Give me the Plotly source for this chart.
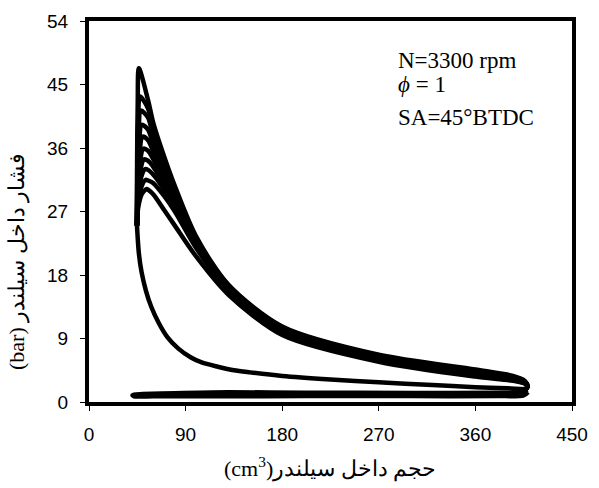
import plotly.graph_objects as go

# ---------------- data ----------------
# shared compression stroke (cm^3, bar)
V_comp = [407, 390, 360, 320, 270, 225, 180, 150, 135, 120, 105, 95, 83, 73, 65, 58, 53, 49, 46.5, 44.7]
P_comp = [1.8, 1.95, 2.1, 2.4, 2.8, 3.2, 3.7, 4.2, 4.5, 5.0, 5.6, 6.3, 7.6, 9.2, 11.2, 13.5, 15.8, 18.4, 21.0, 25.0]

# gas-exchange loop (exhaust + intake)
V_gas = [409, 395, 380, 300, 200, 130, 80, 50, 42, 40.5, 42, 60, 120, 200, 300, 380, 405, 409]
P_gas = [1.7, 1.35, 1.3, 1.28, 1.32, 1.38, 1.25, 1.12, 1.05, 0.95, 0.82, 0.8, 0.82, 0.84, 0.84, 0.84, 0.95, 1.4]

# combustion / expansion cycles
peak_V = [46.5, 47.5, 48.4, 49.2, 49.9, 50.6, 51.3, 52.1, 52.9, 53.7]
peak_P = [47.3, 43.3, 41.3, 39.3, 37.6, 35.9, 34.4, 33.0, 31.5, 30.2]
rise1_V = [44.8, 44.9, 45.0, 45.1, 45.2, 45.3, 45.4, 45.5, 45.6, 45.8]
rise1_P = [34.0, 32.5, 31.5, 30.5, 30.0, 29.5, 29.0, 28.5, 28.0, 27.5]
rise2_V = [45.4, 45.8, 46.2, 46.6, 47.0, 47.4, 47.8, 48.3, 48.8, 49.3]
rise2_P = [42.5, 39.5, 38.0, 36.5, 35.2, 33.9, 32.8, 31.7, 30.5, 29.5]
V_exp = [55, 60, 70, 80, 100, 130, 180, 270, 360, 395, 406, 408.5, 407]
P_exp = [
    [42.8, 39.5, 34.8, 30.6, 23.4, 16.6, 10.7, 6.7, 4.6, 3.7, 3.0, 2.3, 1.8],
    [41.6, 38.6, 34.2, 30.2, 23.2, 16.5, 10.6, 6.6, 4.5, 3.6, 2.9, 2.3, 1.8],
    [40.3, 37.6, 33.6, 29.8, 23.0, 16.4, 10.5, 6.5, 4.4, 3.5, 2.9, 2.3, 1.8],
    [38.6, 36.5, 33.0, 29.4, 22.8, 16.3, 10.4, 6.4, 4.3, 3.4, 2.8, 2.3, 1.8],
    [37.1, 35.5, 32.3, 29.0, 22.6, 16.2, 10.3, 6.3, 4.2, 3.4, 2.8, 2.2, 1.8],
    [35.6, 34.4, 31.6, 28.5, 22.4, 16.1, 10.2, 6.2, 4.1, 3.3, 2.7, 2.2, 1.8],
    [34.2, 33.3, 30.9, 28.1, 22.2, 16.0, 10.1, 6.1, 4.0, 3.2, 2.7, 2.2, 1.8],
    [32.9, 32.2, 30.1, 27.6, 22.0, 15.9, 10.0, 6.0, 3.9, 3.2, 2.7, 2.2, 1.8],
    [31.4, 31.0, 29.2, 27.0, 21.8, 15.7, 9.9, 5.9, 3.8, 3.1, 2.6, 2.2, 1.8],
    [30.1, 29.4, 27.2, 25.0, 20.6, 15.2, 9.5, 5.7, 3.6, 3.0, 2.6, 2.2, 1.8],
]

x_ticks = [0, 90, 180, 270, 360, 450]
y_ticks = [0, 9, 18, 27, 36, 45, 54]

x_title = "(cm<sup>3</sup>)حجم داخل سیلندر"
y_title = "(bar) فشار داخل سیلندر"
notes = ["N=3300 rpm", "<i>ϕ</i> = 1", "SA=45°BTDC"]

# ---------------- figure ----------------
LW = 4.5
line_style = dict(color="black", width=LW, shape="spline", smoothing=0.8)

fig = go.Figure()
fig.add_trace(go.Scatter(x=V_gas, y=P_gas, mode="lines", line=line_style, hoverinfo="skip"))
fig.add_trace(go.Scatter(x=V_comp, y=P_comp, mode="lines", line=line_style, hoverinfo="skip"))
for i in range(len(peak_V)):
    xs = [V_comp[-1], rise1_V[i], rise2_V[i], peak_V[i]] + V_exp
    ys = [P_comp[-1], rise1_P[i], rise2_P[i], peak_P[i]] + P_exp[i]
    fig.add_trace(go.Scatter(x=xs, y=ys, mode="lines", line=line_style, hoverinfo="skip"))

W, H = 599, 488
L, R, T, B = 89, 27, 21, 86
pw, ph = W - L - R, H - T - B

axis_common = dict(
    showline=True, linecolor="black", linewidth=4, mirror=True,
    ticks="outside", ticklen=5, tickwidth=1, tickcolor="black",
    showgrid=False, zeroline=False,
    tickfont=dict(family="Liberation Sans, Arial", size=19, color="black"),
)
fig.update_xaxes(range=[0, 450], tickvals=x_ticks, ticktext=[str(v) for v in x_ticks],
                 ticklabelstandoff=7, **axis_common)
fig.update_yaxes(range=[0, 54], tickvals=y_ticks, ticktext=[str(v) for v in y_ticks],
                 ticklabelstandoff=8, **axis_common)

ann = []
ann.append(dict(text=x_title, xref="paper", yref="paper",
                x=(330 - L) / pw, y=(H - B - 468) / ph, xanchor="center", yanchor="middle",
                showarrow=False, font=dict(family="Liberation Serif, Times New Roman, serif", size=22, color="black")))
ann.append(dict(text=y_title, xref="paper", yref="paper", textangle=-90,
                x=(17 - L) / pw, y=(H - B - 262) / ph, xanchor="center", yanchor="middle",
                showarrow=False, font=dict(family="Liberation Serif, Times New Roman, serif", size=22, color="black")))
note_y = [60.5, 84, 117.5]
for t, yy in zip(notes, note_y):
    ann.append(dict(text=t, xref="paper", yref="paper", x=(396 - L) / pw, y=(H - B - yy) / ph,
                    xanchor="left", yanchor="middle", showarrow=False,
                    font=dict(family="Liberation Serif, Times New Roman, serif", size=23, color="black")))

fig.update_layout(
    width=W, height=H, margin=dict(l=L, r=R, t=T, b=B),
    paper_bgcolor="white", plot_bgcolor="white", showlegend=False,
    annotations=ann,
)

fig.write_html("out.html")
